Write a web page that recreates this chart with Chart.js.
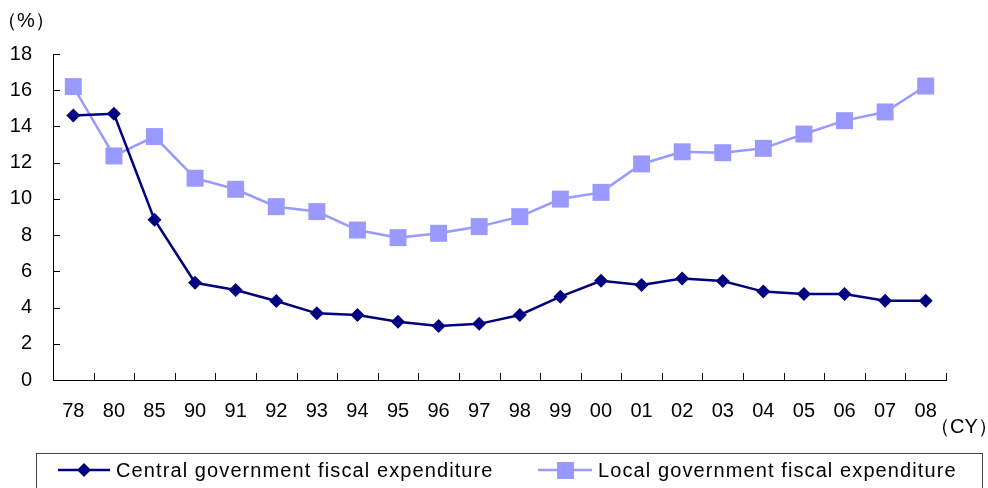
<!DOCTYPE html>
<html>
<head>
<meta charset="utf-8">
<script src="https://cdn.jsdelivr.net/npm/chart.js@4/dist/chart.umd.min.js"></script>
<style>
  html, body { margin: 0; padding: 0; background: #fff; }
  #wrap { position: relative; width: 988px; height: 488px; }
</style>
</head>
<body>
<div id="wrap"><canvas id="chart" width="988" height="488"></canvas></div>
<script>
// Category labels (calendar years)
const years = ['78', '80', '85', '90', '91', '92', '93', '94', '95', '96', '97',
               '98', '99', '00', '01', '02', '03', '04', '05', '06', '07', '08'];

// Series values (% share)
const centralValues = [14.6, 14.7, 8.85, 5.37, 4.97, 4.36, 3.68, 3.59, 3.22, 2.98, 3.1,
                       3.59, 4.6, 5.48, 5.25, 5.6, 5.47, 4.88, 4.75, 4.75, 4.38, 4.38];
const localValues = [16.2, 12.37, 13.44, 11.14, 10.53, 9.57, 9.3, 8.28, 7.86, 8.1, 8.47,
                     9.02, 9.99, 10.36, 11.93, 12.6, 12.55, 12.79, 13.58, 14.32, 14.8, 16.23];

// Y axis ticks
const yTicks = [0, 2, 4, 6, 8, 10, 12, 14, 16, 18];

const seriesNames = ['Central government fiscal expenditure', 'Local government fiscal expenditure'];

const navy = '#000080';
const lilac = '#9999FF';
const fontFamily = '"Liberation Sans", Arial, sans-serif';

// Short inward tick marks on both axes
const innerTicks = {
    id: 'innerTicks',
    afterDraw(chart) {
        const ctx = chart.ctx;
        const xs = chart.scales.x;
        const ys = chart.scales.y;
        ctx.save();
        ctx.strokeStyle = '#000';
        ctx.lineWidth = 1;
        ctx.beginPath();
        yTicks.forEach(v => {
            const y = Math.round(ys.getPixelForValue(v)) + 0.5;
            ctx.moveTo(xs.left, y);
            ctx.lineTo(xs.left + 7, y);
        });
        for (let i = 1; i <= years.length; i++) {
            const x = Math.round(xs.getPixelForValue(i - 0.5)) + 0.5;
            ctx.moveTo(x, ys.bottom);
            ctx.lineTo(x, ys.bottom - 7);
        }
        ctx.stroke();
        ctx.restore();
    }
};

// Unit captions and the boxed legend at the bottom
const extras = {
    id: 'extras',
    afterDraw(chart) {
        const ctx = chart.ctx;
        ctx.save();
        ctx.fillStyle = '#000';
        ctx.font = '20px ' + fontFamily;
        ctx.textBaseline = 'middle';
        ctx.textAlign = 'left';
        ctx.fillText('（%）', -3, 21);
        ctx.fillText('（CY）', 930, 427);

        // legend box
        ctx.strokeStyle = '#444';
        ctx.lineWidth = 1;
        ctx.strokeRect(36.5, 453.5, 946, 60);

        const ly = 470;
        // central item
        ctx.strokeStyle = navy;
        ctx.lineWidth = 2.5;
        ctx.beginPath();
        ctx.moveTo(58, ly);
        ctx.lineTo(110, ly);
        ctx.stroke();
        ctx.fillStyle = navy;
        ctx.beginPath();
        ctx.moveTo(84 - 7, ly);
        ctx.lineTo(84, ly - 7);
        ctx.lineTo(84 + 7, ly);
        ctx.lineTo(84, ly + 7);
        ctx.closePath();
        ctx.fill();

        // local item
        ctx.strokeStyle = lilac;
        ctx.beginPath();
        ctx.moveTo(538, ly);
        ctx.lineTo(592, ly);
        ctx.stroke();
        ctx.fillStyle = lilac;
        ctx.fillRect(557, ly - 8, 17, 17);

        ctx.fillStyle = '#000';
        ctx.font = '20px ' + fontFamily;
        ctx.letterSpacing = '1.1px';
        ctx.fillText(seriesNames[0], 116, ly + 1);
        ctx.fillText(seriesNames[1], 598, ly + 1);
        ctx.restore();
    }
};

new Chart(document.getElementById('chart').getContext('2d'), {
    type: 'line',
    data: {
        labels: years,
        datasets: [{
            label: seriesNames[0],
            data: centralValues,
            borderColor: navy,
            backgroundColor: navy,
            borderWidth: 2.5,
            pointStyle: 'rectRot',
            pointRadius: 7,
            pointHoverRadius: 7,
            pointBorderWidth: 0,
            tension: 0,
            order: 1
        }, {
            label: seriesNames[1],
            data: localValues,
            borderColor: lilac,
            backgroundColor: lilac,
            borderWidth: 2.5,
            pointStyle: 'rect',
            pointRadius: 12,
            pointHoverRadius: 12,
            pointBorderWidth: 0,
            tension: 0,
            order: 2
        }]
    },
    options: {
        responsive: false,
        animation: false,
        layout: {
            padding: { left: 0, right: 42, top: 54, bottom: 68 }
        },
        plugins: {
            legend: { display: false },
            tooltip: { enabled: false }
        },
        scales: {
            x: {
                offset: true,
                grid: { display: false, drawTicks: false },
                border: { display: true, color: '#000', width: 1 },
                ticks: {
                    color: '#000',
                    font: { family: fontFamily, size: 20 },
                    padding: 19,
                    maxRotation: 0,
                    autoSkip: false
                },
                afterFit(scale) { scale.height = 40; }
            },
            y: {
                min: 0,
                max: 18,
                grid: { display: false, drawTicks: false },
                border: { display: true, color: '#000', width: 1 },
                ticks: {
                    stepSize: 2,
                    color: '#000',
                    font: { family: fontFamily, size: 20 },
                    padding: 21
                },
                afterFit(scale) { scale.width = 53; }
            }
        }
    },
    plugins: [innerTicks, extras]
});
</script>
</body>
</html>
